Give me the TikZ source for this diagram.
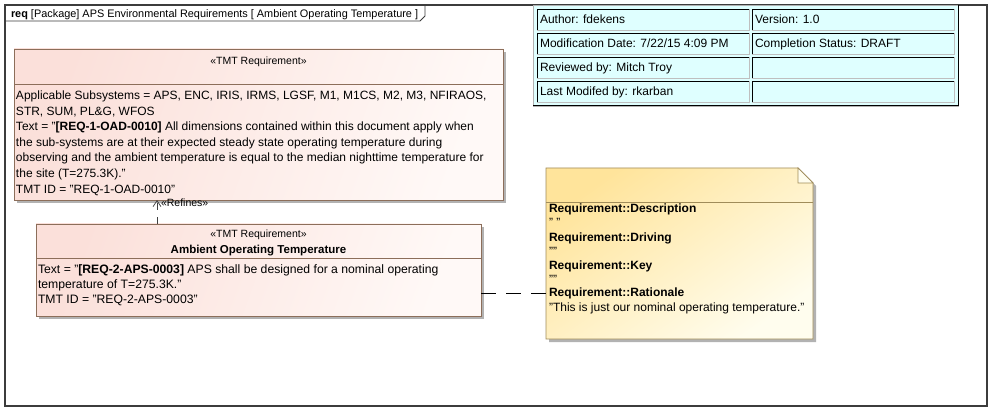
\documentclass[tikz,border=0pt]{standalone}
\usepackage{fontspec}
\setmainfont{Liberation Sans}
\usetikzlibrary{arrows.meta}
\definecolor{reqpink}{RGB}{251,224,218}
\definecolor{reqlight}{RGB}{255,249,247}
\definecolor{reqborder}{RGB}{140,110,90}
\definecolor{noteyel}{RGB}{255,228,155}
\definecolor{notelight}{RGB}{255,253,238}
\definecolor{noteborder}{RGB}{160,140,90}
\definecolor{tabfill}{RGB}{223,255,255}
\definecolor{framecol}{RGB}{60,60,60}
\definecolor{shadowcol}{RGB}{178,178,178}
\begin{document}
\begin{tikzpicture}[x=1pt,y=-1pt,
  every node/.style={inner sep=0pt, outer sep=0pt},
  body/.style={font=\fontsize{12pt}{14pt}\selectfont, anchor=base west},
  stereo/.style={font=\fontsize{10.5pt}{12pt}\selectfont, anchor=base},
  reqbox/.style={draw=reqborder, line width=0.9pt, left color=reqpink, right color=reqlight, shading angle=70, anchor=north west},
  cellbox/.style={fill=tabfill, draw=black!25, line width=0.8pt, anchor=north west, minimum height=21pt},
  refine/.style={draw=black!75, line width=0.7pt, dash pattern=on 7pt off 7pt, -{Straight Barb[length=6pt,width=8pt,line width=0.7pt]}},
  notelink/.style={draw=black, line width=0.8pt, dash pattern=on 15pt off 10pt},
  ]
\useasboundingbox (0,0) rectangle (992,411);
\fill[white] (0,0) rectangle (992,411);

% frame
\draw[framecol, line width=1.2pt] (5,5) rectangle (987,406);
\draw[framecol, line width=0.9pt] (5,21) -- (420,21) -- (425,16) -- (425,5);
\node[body, font=\fontsize{10.9pt}{13pt}\selectfont] (title) at (11,17.5) {\textbf{req} [Package] APS Environmental Requirements [ Ambient Operating Temperature ]};

% info table
\draw[fill=tabfill, draw=black!30, line width=0.8pt] (533,5) rectangle (958,106);
\draw[black, line width=1pt] (958,5) -- (958,106) -- (533,106);
\node[cellbox, minimum width=212pt] (a1) at (537,9) {};
\node[cellbox, minimum width=202pt] (b1) at (752,9) {};
\node[cellbox, minimum width=212pt] (a2) at (537,33) {};
\node[cellbox, minimum width=202pt] (b2) at (752,33) {};
\node[cellbox, minimum width=212pt] (a3) at (537,57) {};
\node[cellbox, minimum width=202pt] (b3) at (752,57) {};
\node[cellbox, minimum width=212pt] (a4) at (537,81) {};
\node[cellbox, minimum width=202pt] (b4) at (752,81) {};
\foreach \c in {a1,b1,a2,b2,a3,b3,a4,b4}
  \draw[black, line width=0.9pt] (\c.south west) -- (\c.north west) -- (\c.north east);
\node[body] (ta1) at (540,24) {Author: fdekens};
\node[body] (tb1) at (755,24) {Version: 1.0};
\node[body] (ta2) at (540,48) {Modification Date: 7/22/15 4:09 PM};
\node[body] (tb2) at (755,48) {Completion Status: DRAFT};
\node[body] (ta3) at (540,72) {Reviewed by: Mitch Troy};
\node[body] (ta4) at (540,96) {Last Modifed by: rkarban};

% requirement 1
\fill[shadowcol] (17,52) rectangle (506,203);
\node[reqbox, minimum width=489pt, minimum height=151pt] (r1) at (14,49) {};
\draw[reqborder, line width=0.9pt] (14,84) -- (503,84);
\node[stereo] (s1) at (258.5,65) {«TMT Requirement»};
\node[body] (l1) at (16,99.5) {Applicable Subsystems = APS, ENC, IRIS, IRMS, LGSF, M1, M1CS, M2, M3, NFIRAOS,};
\node[body] (l2) at (16,115.1) {STR, SUM, PL\&G, WFOS};
\node[body] (l3) at (16,130.7) {Text = "\textbf{[REQ-1-OAD-0010]} All dimensions contained within this document apply when};
\node[body] (l4) at (16,146.3) {the sub-systems are at their expected steady state operating temperature during};
\node[body] (l5) at (16,161.9) {observing and the ambient temperature is equal to the median nighttime temperature for};
\node[body] (l6) at (16,177.5) {the site (T=275.3K)."};
\node[body] (l7) at (16,193.1) {TMT ID = "REQ-1-OAD-0010"};

% requirement 2
\fill[shadowcol] (39,227) rectangle (484,319);
\node[reqbox, minimum width=445pt, minimum height=92pt] (r2) at (36,224) {};
\draw[reqborder, line width=0.9pt] (36,258) -- (481,258);
\node[stereo] (s2) at (258.5,237.5) {«TMT Requirement»};
\node[body, anchor=base, font=\fontsize{11.5pt}{14pt}\selectfont\bfseries] (n2) at (258.5,253.5) {Ambient Operating Temperature};
\node[body, font=\fontsize{12.2pt}{14pt}\selectfont] (m1) at (38,273.5) {Text = "\textbf{[REQ-2-APS-0003]} APS shall be designed for a nominal operating};
\node[body, font=\fontsize{12.2pt}{14pt}\selectfont] (m2) at (38,288.3) {temperature of T=275.3K."};
\node[body, font=\fontsize{12.2pt}{14pt}\selectfont] (m3) at (38,303) {TMT ID = "REQ-2-APS-0003"};

% refines
\coordinate (rx) at (157,0);
\draw[refine] (r2.north -| rx) -- (r1.south -| rx);
\node[stereo, anchor=base west] (ref) at (161,206.5) {«Refines»};

% note
\node[anchor=north west, minimum width=267pt, minimum height=171pt] (note) at (546,168) {};
\fill[shadowcol] (549,171) -- (801,171) -- (816,186) -- (816,342) -- (549,342) -- cycle;
\shade[top color=noteyel, bottom color=notelight, shading angle=35, draw=noteborder, line width=0.9pt]
  (note.north west) -- (798,168) -- (813,183) -- (note.south east) -- (note.south west) -- cycle;
\draw[noteborder, line width=0.7pt, fill=notelight] (798,168) -- (798,183) -- (813,183) -- cycle;
\draw[noteborder, line width=0.9pt] (546,202) -- (813,202);
\node[body, font=\fontsize{12pt}{14pt}\selectfont\bfseries] (d1) at (549,213) {Requirement::Description};
\node[body] (d2) at (549,227) {" "};
\node[body, font=\fontsize{12pt}{14pt}\selectfont\bfseries] (d3) at (549,241.5) {Requirement::Driving};
\node[body] (d4) at (549,255.5) {""};
\node[body, font=\fontsize{12pt}{14pt}\selectfont\bfseries] (d5) at (549,269.5) {Requirement::Key};
\node[body] (d6) at (549,283.5) {""};
\node[body, font=\fontsize{12pt}{14pt}\selectfont\bfseries] (rat) at (549,297) {Requirement::Rationale};
\node[body] (d8) at (549,311) {"This is just our nominal operating temperature."};

% note link
\draw[notelink] (r2.east |- rat.west) -- (note.west |- rat.west);
\end{tikzpicture}
\end{document}
